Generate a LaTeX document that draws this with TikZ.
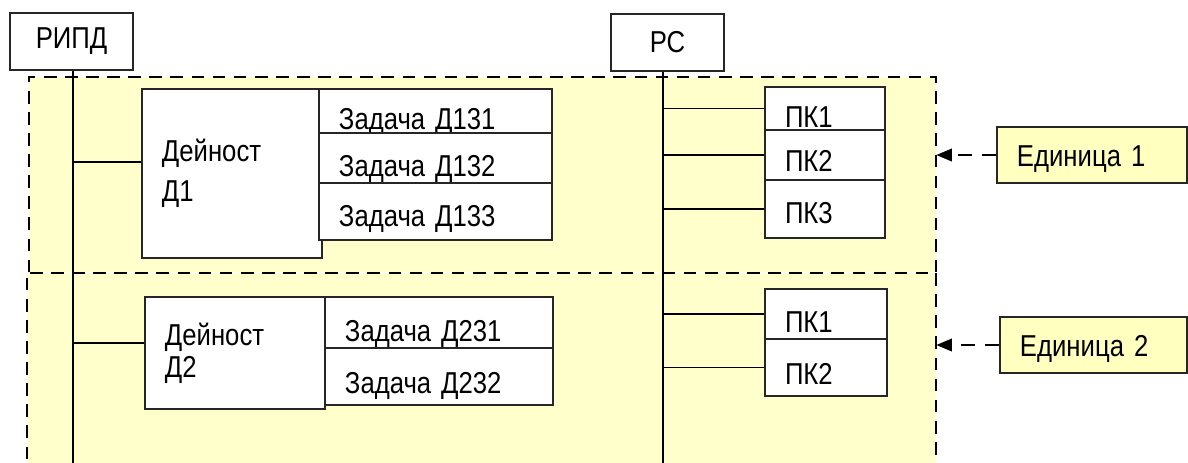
\documentclass[tikz,border=0pt]{standalone}
\usepackage{fontspec}
\setmainfont{Liberation Sans}[FakeStretch=0.85, WordSpace=0.75]
\usetikzlibrary{arrows.meta}
\definecolor{paleyellow}{HTML}{FFFFCC}
\definecolor{labelyellow}{HTML}{FFFFC0}
\begin{document}
\begin{tikzpicture}[x=0.025cm, y=-0.025cm,
    blok/.style={draw=black!85, fill=white, line width=0.9pt, inner xsep=0.5cm, inner ysep=0pt,
                 align=left, font=\fontsize{21.5}{26}\selectfont},
    celle/.style={blok, text height=24pt, text depth=0pt},
    enh/.style={blok, fill=labelyellow, text height=16pt, text depth=0pt},
    unit/.style={fill=paleyellow, inner sep=0pt},
    bus/.style={line width=1.3pt},
    frame/.style={line width=1.3pt, dash pattern=on 9pt off 6pt},
    pil/.style={line width=1.1pt, dash pattern=on 10pt off 7pt, -{Triangle[length=11pt,width=9pt]}}]
    \useasboundingbox (0,0) rectangle (1188,462);
    \clip (0,0) rectangle (1188,462);

    %Enheder
        \node[unit, minimum width=22.675cm, minimum height=4.875cm] (unit1) at (482.5,174.5) {};
        \node[unit, minimum width=22.725cm, minimum height=5.175cm] (unit2) at (481.5,376.5) {};
        \draw[frame] (unit1.south west) -- (unit1.north west) -- (unit1.north east) -- (unit1.south east);
        \draw[frame] (unit2.south west) -- (unit2.north west) -- (unit2.north east) -- (unit2.south east);

    %Skinner
        \node[blok, align=center, text width=2.075cm, minimum height=1.425cm] (ripd) at (71.5,41.5) {РИПД};
        \node[blok, align=center, text width=1.825cm, minimum height=1.425cm] (rs) at (667.5,42.5) {РС};
        \coordinate (ripdbus) at (73,470);
        \coordinate (rsbus) at (663,470);
        \draw[bus] (ripdbus |- ripd.south) -- (ripdbus);
        \draw[bus] (rsbus |- rs.south) -- (rsbus);

    %Dejnost og opgaver
        \node[blok, text width=3.5cm, minimum height=4.225cm, font=\fontsize{21.5}{28.5}\selectfont] (d1) at (232,173.5) {Дейност\\Д1};
        \node[celle, text width=4.825cm, minimum height=1.1cm, text height=27pt] (z131) at (435.5,111) {Задача Д131};
        \node[celle, text width=4.825cm, minimum height=1.25cm, text height=26pt] (z132) at (435.5,158) {Задача Д132};
        \node[celle, text width=4.825cm, minimum height=1.425cm, text height=22pt] (z133) at (435.5,211.5) {Задача Д133};

        \node[blok, text width=3.5cm, minimum height=2.8cm, font=\fontsize{21.5}{23}\selectfont] (d2) at (235,353) {Дейност\\Д2};
        \node[celle, text width=4.7cm, minimum height=1.275cm, text height=27pt] (z231) at (439,322.5) {Задача Д231};
        \node[celle, text width=4.7cm, minimum height=1.425cm] (z232) at (439,376.5) {Задача Д232};

        \draw[bus] (d1.west) ++(0,-11.5) coordinate (d1tap) -- (d1tap -| ripdbus);
        \draw[bus] (d2.west) ++(0,-10) coordinate (d2tap) -- (d2tap -| ripdbus);

    %PK
        \node[celle, text width=2cm, minimum height=1.075cm, text height=27pt] (pk11) at (825,108.5) {ПК1};
        \node[celle, text width=2cm, minimum height=1.25cm] (pk12) at (825,155) {ПК2};
        \node[celle, text width=2cm, minimum height=1.45cm, text height=20pt] (pk13) at (825,209) {ПК3};
        \node[celle, text width=2.05cm, minimum height=1.25cm, text height=27pt] (pk21) at (826,314) {ПК1};
        \node[celle, text width=2.05cm, minimum height=1.425cm] (pk22) at (826,367.5) {ПК2};
        \foreach \pk in {pk11,pk12,pk13,pk21,pk22}
            \draw[bus] (\pk.west) -- (\pk.west -| rsbus);

    %Enheder, navne
        \node[enh, text width=3.75cm, minimum height=1.4cm] (e1) at (1092,155) {Единица 1};
        \node[enh, text width=3.675cm, minimum height=1.4cm] (e2) at (1093.5,345) {Единица 2};
        \draw[pil] (e1.west) -- (e1.west -| unit1.east);
        \draw[pil] (e2.west) -- (e2.west -| unit2.east);
\end{tikzpicture}
\end{document}
